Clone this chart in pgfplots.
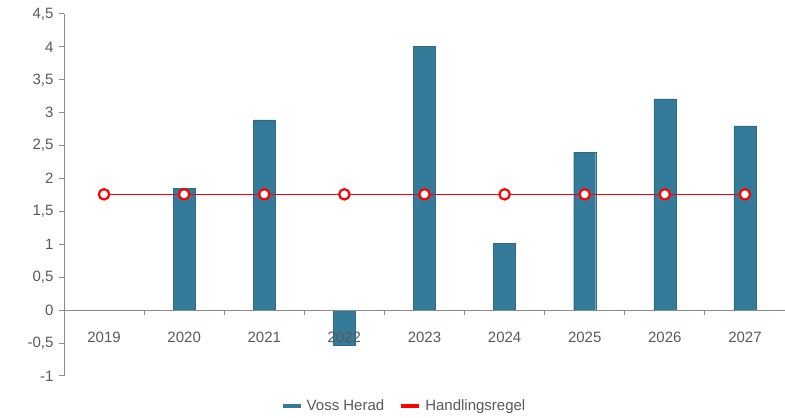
\documentclass[border=0pt]{standalone}
\usepackage{pgfplots}
\pgfplotsset{compat=1.18}
\usepackage{fontspec}
\setmainfont{Liberation Sans}
\definecolor{barblue}{HTML}{347B99}
\definecolor{baredge}{HTML}{2C6A85}
\definecolor{axgray}{HTML}{8C8C8C}
\definecolor{txtgray}{HTML}{595959}
\definecolor{lred}{HTML}{FF0000}
\begin{document}
\begin{tikzpicture}
\begin{axis}[
  at={(64bp,42bp)}, anchor=south west,
  scale only axis, width=721bp, height=362bp,
  xmin=-0.5, xmax=8.5, ymin=-1, ymax=4.5,
  axis on top,
  axis y line=left, axis x line=middle,
  axis line style={axgray, line width=1bp, -},
  xtick={0,...,8},
  xticklabels={2019,2020,2021,2022,2023,2024,2025,2026,2027},
  major x tick style={draw=none},
  extra x ticks={0.5,1.5,...,7.5},
  extra x tick labels={},
  extra x tick style={major x tick style={draw=axgray, line width=1bp}, xtick align=outside},
  y tick style={axgray, line width=1bp},
  major tick length=5bp,
  xtick align=outside, ytick align=outside,
  ytick pos=left,
  ytick={-1,-0.5,...,4.5},
  yticklabels={-1,{-0,5},0,{0,5},1,{1,5},2,{2,5},3,{3,5},4,{4,5}},
  ticklabel style={font=\fontsize{15bp}{18bp}\selectfont, text=txtgray},
  xticklabel style={yshift=-13bp},
  yticklabel style={xshift=-2bp},
  legend style={at={(0.473,-0.083)}, anchor=center, draw=none, fill=none,
    legend columns=2, font=\fontsize{15bp}{18bp}\selectfont, text=txtgray,
    /tikz/every even column/.append style={column sep=11bp},
    nodes={inner xsep=4bp},
    legend cell align=left},
]
\addplot[ybar, bar width=22bp, bar shift=0pt, fill=barblue, draw=baredge, forget plot]
  coordinates {(1,1.85) (2,2.89) (3,-0.53) (4,4.01) (5,1.02) (6,2.40) (7,3.21) (8,2.80)};
\addplot[lred, line width=1.5bp, mark=*, mark size=5.2bp,
  mark options={fill=white, draw=lred, line width=2.2bp}, forget plot]
  coordinates {(0,1.76) (1,1.76) (2,1.76) (3,1.76) (4,1.76) (5,1.76) (6,1.76) (7,1.76) (8,1.76)};
\addlegendimage{legend image code/.code={\draw[barblue,line width=4bp] (0bp,0bp) -- (18bp,0bp);}}
\addlegendentry{Voss Herad}
\addlegendimage{legend image code/.code={\draw[lred,line width=4bp] (0bp,0bp) -- (18bp,0bp);}}
\addlegendentry{Handlingsregel}
\end{axis}
\pgfresetboundingbox
\useasboundingbox (0,0) rectangle (785bp,418bp);
\end{tikzpicture}
\end{document}
